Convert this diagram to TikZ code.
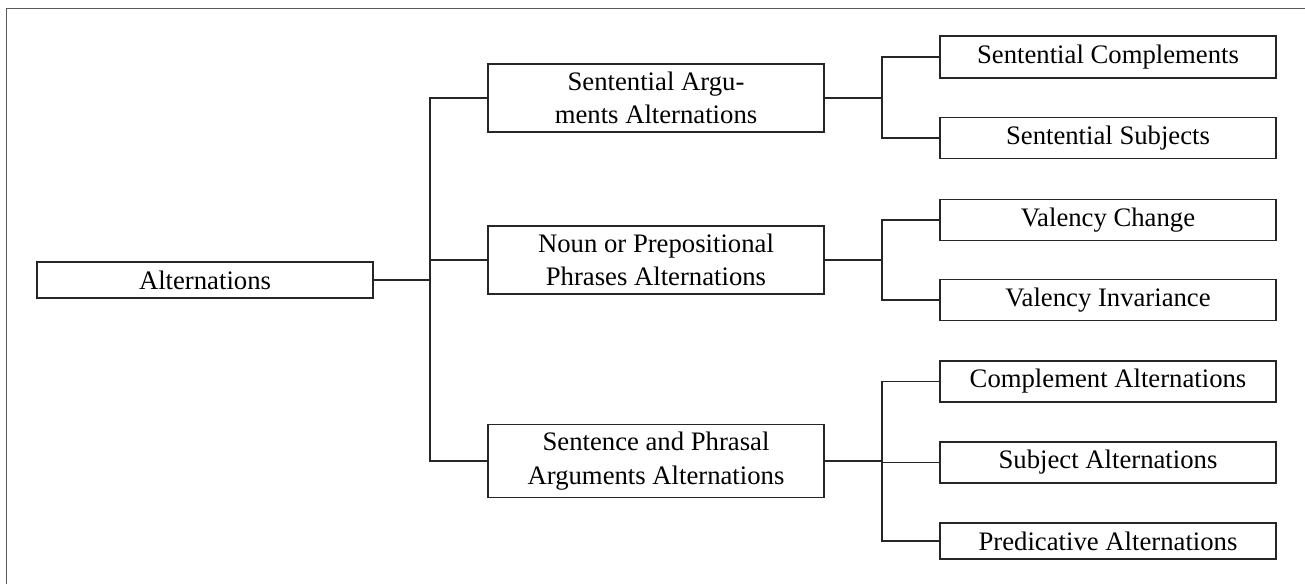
\documentclass[tikz,border=0pt]{standalone}
\usepackage{fontspec}
\setmainfont{Liberation Serif}
\begin{document}
\begin{tikzpicture}[x=0.5pt,y=-0.5pt,
  box/.style={draw=black!85, line width=0.6pt, rectangle, inner sep=0pt,
    minimum width=168pt, align=center,
    font=\fontsize{13.35}{16.7}\selectfont},
  link/.style={draw=black!85, line width=0.6pt},
  frameline/.style={draw=black!65, line width=0.7pt}]
\useasboundingbox (0,0) rectangle (1305,584);
\draw[frameline] (6.5,584) -- (6.5,8.7) -- (1305,8.7);

\node[box, minimum height=18pt] (alt) at (205,280) {Alternations};
\node[box, minimum height=34pt] (s1) at (656,98) {Sentential Argu-\\ments Alternations};
\node[box, minimum height=34pt] (s2) at (656,260) {Noun or Prepositional\\Phrases Alternations};
\node[box, minimum height=36.5pt] (s3) at (656,461) {Sentence and Phrasal\\Arguments Alternations};

\node[box, minimum height=21pt] (l1) at (1108,57) {Sentential Complements};
\node[box, minimum height=20.5pt] (l2) at (1108,138) {Sentential Subjects};
\node[box, minimum height=20.5pt] (l3) at (1108,220) {Valency Change};
\node[box, minimum height=20.5pt] (l4) at (1108,300) {Valency Invariance};
\node[box, minimum height=20.5pt] (l5) at (1108,381.5) {Complement Alternations};
\node[box, minimum height=20.5pt] (l6) at (1108,462.5) {Subject Alternations};
\node[box, minimum height=18pt] (l7) at (1108,541) {Predicative Alternations};

\coordinate (j1) at (430,280);
\coordinate (j2) at (882,98);
\coordinate (j3) at (882,260);
\coordinate (j4) at (882,461);

\draw[link] (alt.east) -- (j1);
\draw[link] (s1.west) -| (j1);
\draw[link] (s2.west) -| (j1);
\draw[link] (s3.west) -| (j1);

\draw[link] (s1.east) -- (j2);
\draw[link] (l1.west) -| (j2);
\draw[link] (l2.west) -| (j2);

\draw[link] (s2.east) -- (j3);
\draw[link] (l3.west) -| (j3);
\draw[link] (l4.west) -| (j3);

\draw[link] (s3.east) -- (j4);
\draw[link] (l5.west) -| (j4);
\draw[link] (l6.west) -| (j4);
\draw[link] (l7.west) -| (j4);
\end{tikzpicture}
\end{document}
